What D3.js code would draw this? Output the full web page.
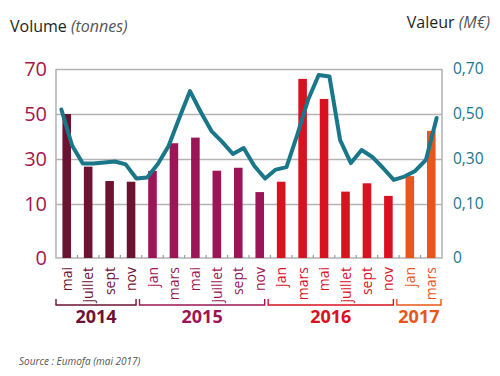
<!DOCTYPE html>
<html>
<head>
<meta charset="utf-8">
<script src="https://cdn.jsdelivr.net/npm/d3@7"></script>
<style>
  body { margin: 0; background: #fff; }
  text { font-family: "Open Sans", sans-serif; }
</style>
</head>
<body>
<div id="chart"></div>
<script>
// bar categories (one bar every two months)
const monthLabels = ["mai", "juillet", "sept", "nov",
    "jan", "mars", "mai", "juillet", "sept", "nov",
    "jan", "mars", "mai", "juillet", "sept", "nov",
    "jan", "mars"];
const barYears = ["2014", "2014", "2014", "2014",
    "2015", "2015", "2015", "2015", "2015", "2015",
    "2016", "2016", "2016", "2016", "2016", "2016",
    "2017", "2017"];
const years = ["2014", "2015", "2016", "2017"];

// volume in tonnes (bars)
const volume = [50, 26.6, 20.2, 19.9,
    24.7, 37, 39.5, 24.8, 26.1, 15.3,
    19.9, 65.6, 56.7, 15.5, 19.2, 13.6,
    22.4, 42.5];

// value in M€, monthly from mai 2014 to avril 2017 (line)
const valeur = [0.52, 0.36, 0.28, 0.28, 0.284, 0.289, 0.276, 0.213,
    0.218, 0.278, 0.358, 0.482, 0.602, 0.509, 0.424, 0.376, 0.322, 0.349, 0.269, 0.213,
    0.253, 0.264, 0.407, 0.562, 0.673, 0.667, 0.384, 0.282, 0.340, 0.309, 0.260, 0.207,
    0.222, 0.247, 0.296, 0.482];

const leftTicks = [0, 10, 30, 50, 70];
const rightTicks = [0, 0.1, 0.3, 0.5, 0.7];

const yearColor = d3.scaleOrdinal()
    .domain(years)
    .range(["#6c1332", "#9c1556", "#d8121f", "#e8561a"]);

function drawChart(target) {
    const margin = {top: 69, right: 58, bottom: 118, left: 56},
        width = 500 - margin.left - margin.right,
        height = 376 - margin.top - margin.bottom;

    const svg = d3.select(target).append("svg")
        .attr("width", 500)
        .attr("height", 376);

    const g = svg.append("g")
        .attr("transform", "translate(" + margin.left + "," + margin.top + ")");

    const keys = monthLabels.map(function(m, i) { return barYears[i] + "-" + m; });

    // bars sit in the middle of 2-month slots
    const x = d3.scaleBand()
        .domain(keys)
        .range([0, width])
        .paddingInner(0.6)
        .paddingOuter(0.3);

    // monthly scale for the line
    const xm = d3.scaleLinear()
        .domain([0, valeur.length])
        .range([0, width]);

    // the bottom of the axis is labelled 0 but is not proportional
    const y = d3.scaleLinear()
        .domain([0, 10, 70])
        .range([height, 135, 0]);
    const y2 = d3.scaleLinear()
        .domain([0, 0.1, 0.7])
        .range([height, 135, 0]);

    // gridlines
    g.append("g")
        .call(d3.axisLeft(y).tickValues([10, 30, 50, 70]).tickSize(-width).tickFormat(""))
        .call(function(a) { a.select(".domain").remove(); })
        .selectAll("line")
        .attr("stroke", "#b3b3b3")
        .attr("stroke-width", 1.5);

    // frame: left, right and bottom
    g.append("path")
        .attr("d", "M0,0V" + height + "H" + width + "V0")
        .attr("fill", "none")
        .attr("stroke", "#b3b3b3")
        .attr("stroke-width", 1.5);

    // small ticks between bars
    g.selectAll(".slot-tick")
        .data(keys.slice(1))
        .enter().append("line")
        .attr("class", "slot-tick")
        .attr("x1", function(d) { return x(d) - x.step() * 0.3; })
        .attr("x2", function(d) { return x(d) - x.step() * 0.3; })
        .attr("y1", height)
        .attr("y2", height - 3)
        .attr("stroke", "#999")
        .attr("stroke-width", 1.2);

    // bars
    g.selectAll(".bar")
        .data(volume)
        .enter().append("rect")
        .attr("class", "bar")
        .attr("x", function(d, i) { return x(keys[i]); })
        .attr("width", x.bandwidth())
        .attr("y", function(d) { return y(d); })
        .attr("height", function(d) { return height - y(d); })
        .attr("fill", function(d, i) { return yearColor(barYears[i]); });

    // value line
    const line = d3.line()
        .x(function(d, i) { return xm(i + 0.5); })
        .y(function(d) { return y2(d); });

    g.append("path")
        .datum(valeur)
        .attr("d", line)
        .attr("fill", "none")
        .attr("stroke", "#1a7689")
        .attr("stroke-width", 4)
        .attr("stroke-linejoin", "round")
        .attr("stroke-linecap", "round");

    // left axis labels
    const yAxis = g.append("g")
        .call(d3.axisLeft(y).tickValues(leftTicks).tickSize(0).tickPadding(9));
    yAxis.select(".domain").remove();
    yAxis.selectAll("text")
        .attr("fill", "#a3174c")
        .style("font-size", "20px");

    // right axis labels
    const yAxis2 = g.append("g")
        .attr("transform", "translate(" + width + ",0)")
        .call(d3.axisRight(y2).tickValues(rightTicks).tickSize(0).tickPadding(11)
            .tickFormat(function(d) { return d === 0 ? "0" : d3.format(".2f")(d).replace(".", ","); }));
    yAxis2.select(".domain").remove();
    yAxis2.selectAll("text")
        .attr("fill", "#1a7689")
        .style("font-size", "15.5px");

    // month labels, rotated
    g.selectAll(".month")
        .data(monthLabels)
        .enter().append("text")
        .attr("class", "month")
        .attr("transform", function(d, i) {
            return "translate(" + (x(keys[i]) + x.bandwidth() / 2) + "," + (height + 9) + ") rotate(-90)";
        })
        .attr("dy", "0.36em")
        .style("text-anchor", "end")
        .style("font-size", "14px")
        .attr("fill", function(d, i) { return yearColor(barYears[i]); })
        .text(function(d) { return d; });

    // year brackets
    const yearSpans = years.map(function(yr, j) {
        const idx = keys.filter(function(k, i) { return barYears[i] === yr; });
        const first = x(idx[0]) + x.bandwidth() / 2;
        const last = x(idx[idx.length - 1]) + x.bandwidth() / 2;
        return {
            year: yr,
            x0: j === 0 ? 0 : first - 13,
            x1: j === years.length - 1 ? width - 1 : last + 5
        };
    });

    g.selectAll(".bracket")
        .data(yearSpans)
        .enter().append("path")
        .attr("class", "bracket")
        .attr("d", function(d) {
            return "M" + d.x0 + "," + (height + 41) + "V" + (height + 47) + "H" + d.x1 + "V" + (height + 41);
        })
        .attr("fill", "none")
        .attr("stroke", function(d) { return yearColor(d.year); })
        .attr("stroke-width", 1.4);

    g.selectAll(".year")
        .data(yearSpans)
        .enter().append("text")
        .attr("class", "year")
        .attr("x", function(d) { return (d.x0 + d.x1) / 2; })
        .attr("y", height + 65)
        .style("text-anchor", "middle")
        .style("font-size", "18px")
        .style("font-weight", "bold")
        .attr("fill", function(d) { return yearColor(d.year); })
        .text(function(d) { return d.year; });

    // titles
    const t1 = svg.append("text")
        .attr("x", 10)
        .attr("y", 32)
        .style("font-size", "16px")
        .attr("fill", "#1e1e1e");
    t1.append("tspan").text("Volume ");
    t1.append("tspan").style("font-style", "italic").attr("fill", "#555").text("(tonnes)");

    const t2 = svg.append("text")
        .attr("x", 490)
        .attr("y", 28)
        .style("text-anchor", "end")
        .style("font-size", "16px")
        .attr("fill", "#1e1e1e");
    t2.append("tspan").text("Valeur ");
    t2.append("tspan").style("font-style", "italic").attr("fill", "#555").text("(M€)");

    svg.append("text")
        .attr("x", 19)
        .attr("y", 365)
        .style("font-size", "10px")
        .style("font-style", "italic")
        .attr("fill", "#555")
        .text("Source : Eumofa (mai 2017)");
}

drawChart("#chart");
</script>
</body>
</html>
